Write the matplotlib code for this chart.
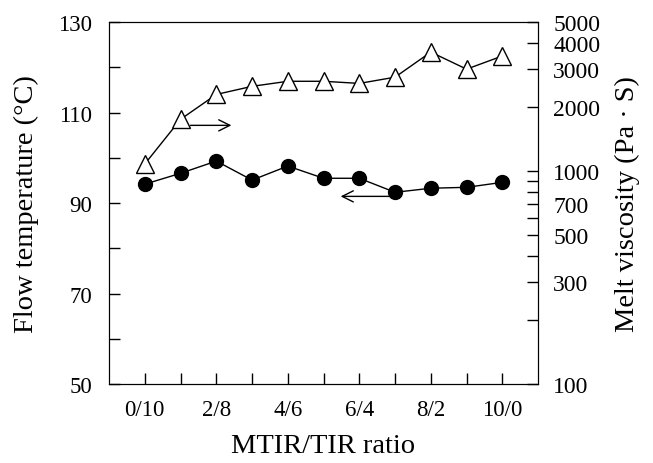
import matplotlib
matplotlib.use("Agg")
import matplotlib.pyplot as plt
from matplotlib.ticker import FixedLocator, NullFormatter

plt.rcParams['font.family'] = ['Liberation Serif', 'DejaVu Serif']

# MTIR/TIR ratio, 11 compositions (labels shown every other one)
ratio_labels = ['0/10', '1/9', '2/8', '3/7', '4/6', '5/5', '6/4', '7/3', '8/2', '9/1', '10/0']
# flow temperature (C), left axis, filled circles
flow_temp = [94.2, 96.6, 99.3, 95.1, 98.2, 95.5, 95.5, 92.4, 93.3, 93.5, 94.6]
# melt viscosity (Pa.s), right log axis, open triangles
melt_visc = [1080, 1750, 2290, 2500, 2640, 2640, 2580, 2760, 3620, 3010, 3470]

x = list(range(len(ratio_labels)))

fig = plt.figure(figsize=(6.53, 4.64), dpi=100)
ax = fig.add_axes([0.167, 0.170, 0.657, 0.780])
ax2 = ax.twinx()

ax.plot(x, flow_temp, color='black', lw=1, marker='o', ms=10, zorder=3)
ax2.plot(x, melt_visc, color='black', lw=1, marker='^', ms=12.5,
         markerfacecolor='white', markeredgecolor='black', markeredgewidth=1)

ax.set_xlim(-1, 11)
ax.set_ylim(50, 130)
ax.set_yticks([50, 70, 90, 110, 130])
ax.yaxis.set_minor_locator(FixedLocator([60, 80, 100, 120]))
ax.set_xticks(x)
ax.set_xticklabels([l if i % 2 == 0 else '' for i, l in enumerate(ratio_labels)])

ax2.set_yscale('log')
ax2.set_ylim(100, 5000)
ax2.yaxis.set_major_locator(FixedLocator([100, 300, 500, 700, 1000, 2000, 3000, 4000, 5000]))
ax2.yaxis.set_minor_locator(FixedLocator([200, 400, 600, 800, 900]))
ax2.yaxis.set_minor_formatter(NullFormatter())
ax2.set_yticklabels(['100', '300', '500', '700', '1000', '2000', '3000', '4000', '5000'])

for a in (ax, ax2):
    a.tick_params(which='both', direction='in', length=8, width=1, labelsize=16.5, pad=10)
    a.tick_params(which='minor', length=8)
ax.tick_params(axis='y', pad=12)
ax2.tick_params(labelsize=17, pad=11)
ax.tick_params(axis='x', length=8, pad=11)

ax.set_xlabel('MTIR/TIR ratio', fontsize=20.5, labelpad=9)
ax.set_ylabel('Flow temperature (°C)', fontsize=20.5, labelpad=14)
ax2.set_ylabel('Melt viscosity (Pa · S)', fontsize=20.5, labelpad=10)

# arrows pointing to the matching axis
ax.annotate('', xy=(2.5, 107.2), xytext=(1.2, 107.2),
            arrowprops=dict(arrowstyle='->', lw=1, mutation_scale=20))
ax.annotate('', xy=(5.4, 91.5), xytext=(7.0, 91.5),
            arrowprops=dict(arrowstyle='->', lw=1, mutation_scale=20))

fig.savefig('out.png', dpi=100)
